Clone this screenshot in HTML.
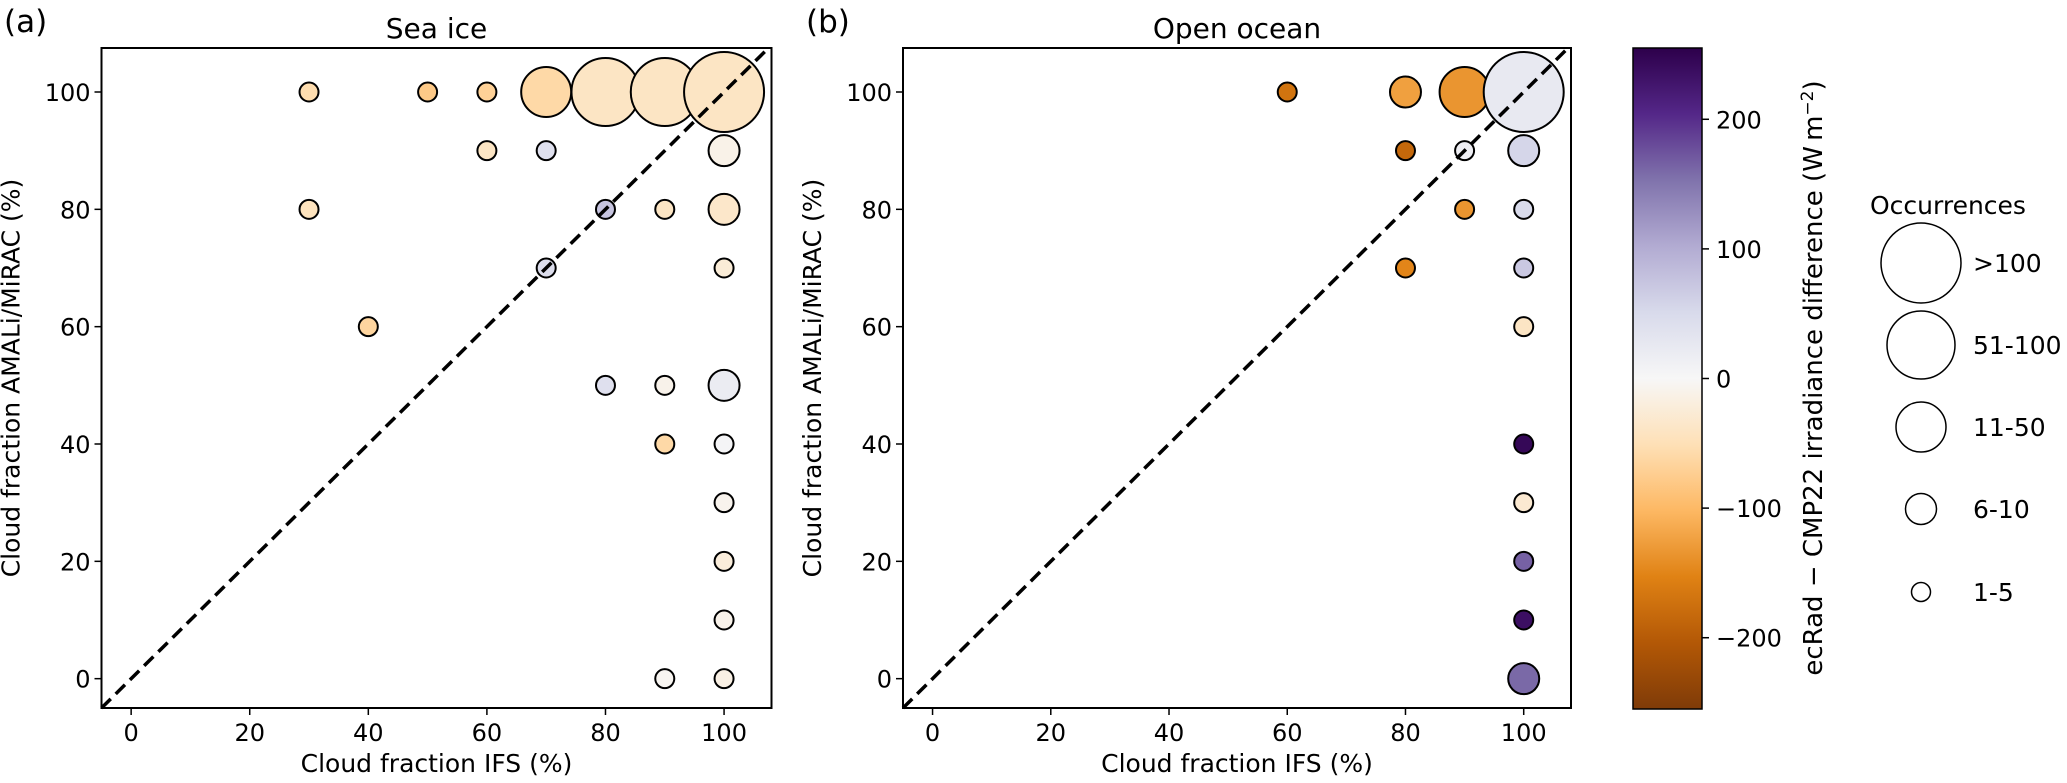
<!DOCTYPE html>
<html><head><meta charset="utf-8">
<style>
html,body{margin:0;padding:0;background:#fff;}
svg{display:block;font-family:"DejaVu Sans","Liberation Sans",sans-serif;}
</style></head>
<body>
<svg id="fig" width="2067" height="783" viewBox="0 0 2067 783" xmlns="http://www.w3.org/2000/svg">
<defs>
<linearGradient id="cbgrad" x1="0" y1="1" x2="0" y2="0">
<stop offset="0" stop-color="#7f3b08"/><stop offset="0.1" stop-color="#b35806"/><stop offset="0.2" stop-color="#e08214"/><stop offset="0.3" stop-color="#fdb863"/><stop offset="0.4" stop-color="#fee0b6"/><stop offset="0.5" stop-color="#f7f7f7"/><stop offset="0.6" stop-color="#d8daeb"/><stop offset="0.7" stop-color="#b2abd2"/><stop offset="0.8" stop-color="#8073ac"/><stop offset="0.9" stop-color="#542788"/><stop offset="1" stop-color="#2d004b"/>
</linearGradient>
</defs>
<g id="root"></g>
</svg>
<script>
// ---- data ----
const tickValues = [0, 20, 40, 60, 80, 100];
const cbTicks = [-200, -100, 0, 100, 200];
const cbTickLabels = ["\u2212200", "\u2212100", "0", "100", "200"];
const sizeClassLabels = ["1-5", "6-10", "11-50", "51-100", ">100"];
// Sea ice panel
const seaIFS   = [30,50,60,70,80,90,100, 60,70,100, 30,80,90,100, 70,100, 40, 80,90,100, 90,100, 100,100,100, 90,100];
const seaAMALi = [100,100,100,100,100,100,100, 90,90,90, 80,80,80,80, 70,70, 60, 50,50,50, 40,40, 30,20,10, 0,0];
const seaClass = [1,1,1,3,4,4,5, 1,1,2, 1,1,1,2, 1,1, 1, 1,1,2, 1,1, 1,1,1, 1,1];
const seaDiff  = [-55,-80,-70,-60,-40,-40,-40, -40,40,-12, -45,75,-40,-35, 45,-25, -65, 40,-10,20, -60,5, -8,-22,-10, -5,-15];
// Open ocean panel
const oceIFS   = [60,80,90,100, 80,90,100, 90,100, 80,100, 100,100,100,100,100,100];
const oceAMALi = [100,100,100,100, 90,90,90, 80,80, 70,70, 60,40,30,20,10,0];
const oceClass = [1,2,3,5, 1,1,2, 1,1, 1,1, 1,1,1,1,1,2];
const oceDiff  = [-170,-125,-135,25, -185,15,55, -135,50, -150,70, -40,245,-30,165,235,160];

const NS = "http://www.w3.org/2000/svg";
const root = document.getElementById('root');
const radii = [0, 9.5, 15.5, 25, 34, 40];
const VMAX = 255;
const stops = ["#7f3b08","#b35806","#e08214","#fdb863","#fee0b6","#f7f7f7","#d8daeb","#b2abd2","#8073ac","#542788","#2d004b"];
function hex(c){return [parseInt(c.slice(1,3),16),parseInt(c.slice(3,5),16),parseInt(c.slice(5,7),16)];}
function cmap(v){
  let t=(v+VMAX)/(2*VMAX); t=Math.max(0,Math.min(1,t));
  const p=t*10, i=Math.min(9,Math.floor(p)), f=p-i;
  const a=hex(stops[i]), b=hex(stops[i+1]);
  return "rgb("+a.map((x,k)=>Math.round(x+(b[k]-x)*f)).join(",")+")";
}
function mk(tag, attrs, parent){
  const e=document.createElementNS(NS,tag);
  for(const k in attrs) e.setAttribute(k, attrs[k]);
  (parent||root).appendChild(e); return e;
}
function txt(s, attrs, parent){const e=mk('text',attrs,parent); e.textContent=s; return e;}

const XMIN=-5, XMAX=108, YMIN=-5, YMAX=107.5;
function panel(name, left, right, top, bottom, xs, ys, cls, diffs, title, letter, letterX){
  const g=mk('g',{});
  
  
  const sx=v=>left+(v-XMIN)/(XMAX-XMIN)*(right-left);
  const sy=v=>bottom-(v-YMIN)/(YMAX-YMIN)*(bottom-top);
  const line=mk('line',{x1:sx(XMIN),y1:sy(-5),x2:sx(YMAX),y2:sy(YMAX),stroke:'#000','stroke-width':3.5,'stroke-dasharray':'13,7'},g);
  
  
  for(let i=0;i<xs.length;i++){
    const c=mk('circle',{cx:sx(xs[i]),cy:sy(ys[i]),r:radii[cls[i]],fill:cmap(diffs[i]),stroke:'#000','stroke-width':2},g);
    
    
  }
  g.appendChild(line);
  const fr=mk('rect',{x:left,y:top,width:right-left,height:bottom-top,fill:'none',stroke:'#000','stroke-width':2},g);
  
  
  for(const t of tickValues){
    mk('line',{x1:sx(t),y1:bottom,x2:sx(t),y2:bottom+7,stroke:'#000','stroke-width':1.5},g);
    const xl=txt(String(t),{x:sx(t),y:bottom+33,'font-size':24,'text-anchor':'middle'},g);
    
    
    mk('line',{x1:left-7,y1:sy(t),x2:left,y2:sy(t),stroke:'#000','stroke-width':1.5},g);
    const yl=txt(String(t),{x:left-11,y:sy(t)+9,'font-size':24,'text-anchor':'end'},g);
    
    
  }
  const xt=txt('Cloud fraction IFS (%)',{x:(left+right)/2,y:772,'font-size':25,'text-anchor':'middle'},g);
  
  
  const yx=left-82, yc=(top+bottom)/2;
  const yt=txt('Cloud fraction AMALi/MiRAC (%)',{x:yx,y:yc,'font-size':25,'text-anchor':'middle',transform:'rotate(-90 '+yx+' '+yc+')'},g);
  
  
  const tt=txt(title,{x:(left+right)/2,y:38,'font-size':28,'text-anchor':'middle'},g);
  
  
  const lt=txt(letter,{x:letterX,y:32,'font-size':31},g);
  
  
}
panel('sea-ice', 101.5, 771.5, 48, 708, seaIFS, seaAMALi, seaClass, seaDiff, 'Sea ice', '(a)', 4);
panel('open-ocean', 903, 1571, 48, 708, oceIFS, oceAMALi, oceClass, oceDiff, 'Open ocean', '(b)', 806);

const cbL=1633, cbR=1702, cbT=48, cbB=709;
const cb=mk('rect',{x:cbL,y:cbT,width:cbR-cbL,height:cbB-cbT,fill:'url(#cbgrad)',stroke:'#000','stroke-width':1.5});


const cy=v=>cbB-(v+VMAX)/(2*VMAX)*(cbB-cbT);
cbTicks.forEach((t,i)=>{
  mk('line',{x1:cbR,y1:cy(t),x2:cbR+7,y2:cy(t),stroke:'#000','stroke-width':1.5});
  const l=txt(cbTickLabels[i],{x:cbR+14,y:cy(t)+9,'font-size':24});
  
  
});
const cbx=1822, cby=378;
const cbt=mk('text',{x:cbx,y:cby,'font-size':26,'text-anchor':'middle',transform:'rotate(-90 '+cbx+' '+cby+')'});
cbt.innerHTML='ecRad \u2212 CMP22 irradiance difference (W\u2009m<tspan dy="-9" font-size="17">\u22122</tspan><tspan dy="9">)</tspan>';



const lg=mk('g',{});


const lt=txt('Occurrences',{x:1870,y:214,'font-size':25},lg);


const legY=[592,509,427,345,263];
sizeClassLabels.forEach((s,i)=>{
  const c=mk('circle',{cx:1921,cy:legY[i],r:radii[i+1],fill:'none',stroke:'#000','stroke-width':1.5},lg);
  
  
  const l=txt(s,{x:1973,y:legY[i]+9,'font-size':25},lg);
  
  
});
</script>
</body></html>
